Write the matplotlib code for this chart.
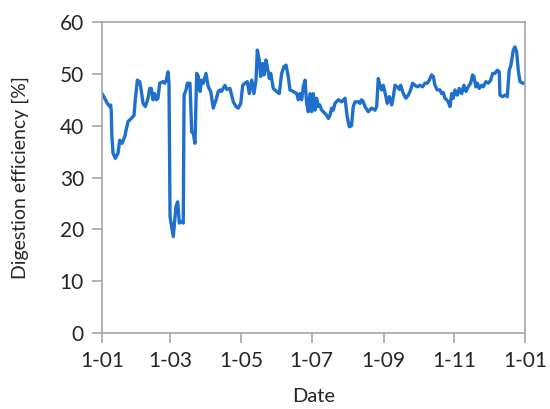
import numpy as np
import pandas as pd
import matplotlib
matplotlib.use("Agg")
import matplotlib.pyplot as plt
from matplotlib.ticker import FuncFormatter

# day of year (0 = 1 January) and digestion efficiency [%]
day = [0, 2.3, 4.6, 6.6, 7.5, 8, 8.5, 9.5, 11.5, 13.8, 15.3, 17.3, 19.6, 22.4, 25.3, 27.6,
       28.7, 30.5, 32.5, 33.4, 35.4, 37.4, 39.7, 41.2, 42.5, 44, 45.4, 46.9, 48.3, 49.8,
       52.6, 54.1, 55.5, 56.9, 57.8, 58.7, 60.1, 61.5, 63.8, 65.3, 66.7, 68.8, 70.1,
       70.8, 72.5, 73.6, 75.9, 77.4, 78.8, 80.2, 81.7, 83.1, 84.6, 86, 87.4, 89.7, 91.7,
       93.8, 96, 98.4, 100.3, 101.8, 103, 106.1, 107.6, 110.4, 113.3, 115.6, 117.6,
       119.7, 121.4, 123.4, 125.4, 127.1, 129.2, 131.1, 132.9, 134, 135.7, 136.9, 138.7,
       139.8, 141.5, 142.6, 144.4, 145.6, 147.8, 150.7, 153, 155, 157, 158.8, 160.7,
       162.2, 165, 168, 169.4, 170.8, 172.3, 173.7, 175.2, 176.6, 178, 179.5, 180.9,
       182.3, 183.8, 185.2, 186.6, 188, 189.6, 191, 193.9, 195.3, 196.7, 198.2, 199.6,
       201, 203.9, 206.8, 209.7, 211.6, 213.4, 215.3, 216.8, 218.3, 221.2, 222.6, 224,
       225.5, 226.9, 229.8, 232.6, 235.6, 237, 238.4, 239.8, 241.3, 242.7, 245, 246.2,
       247.9, 250, 251.4, 252.8, 254.8, 256.6, 257.7, 260, 262.3, 264.3, 266.3, 268,
       270, 272, 274.4, 276.6, 278.7, 280.7, 282.4, 284.4, 285.9, 287.3, 289.3, 291.6,
       293.1, 294.5, 295.9, 297.4, 298.8, 300.3, 301.7, 303.1, 304.6, 306.6, 308.3,
       310.4, 312.3, 314.1, 316, 318.1, 319.8, 320.9, 322.7, 323.9, 325.5, 327.6, 329,
       331.3, 333.3, 335.4, 337.1, 339.1, 341.1, 342.8, 343.4, 345.7, 347.7, 349.7,
       351.4, 352.9, 354.9, 356.3, 357.8, 359.2, 360.7, 363, 364]
efficiency = [46.2, 45.3, 44.3, 43.7, 44, 42.7, 38, 34.7, 33.7, 34.7, 37.2, 36.6, 37.9, 40.8,
              41.4, 42, 45, 48.8, 48.5, 47.5, 44.3, 43.7, 45.3, 47.2, 47.2, 45, 46.2, 45,
              45.3, 48.2, 48.5, 48.2, 48.8, 50.4, 48, 22.4, 20.5, 18.6, 24.4, 25.3, 21.2,
              21.5, 21.2, 45.9, 46.9, 48.2, 48.2, 38.8, 38.5, 36.6, 50.1, 49.5, 46.6, 48.8,
              48.2, 50.1, 47.5, 46.6, 43.4, 45, 46.6, 46.9, 46.6, 47.8, 47, 47.2, 44.6,
              43.7, 43.4, 44.3, 47.8, 48.2, 48.5, 46.2, 48.8, 46.2, 48.8, 54.6, 52.7, 49.5,
              52, 49.8, 52.7, 51.4, 49.1, 50.1, 47.2, 46.6, 46.2, 50.1, 51.4, 51.7, 49.5,
              46.9, 46.6, 46.2, 45, 46.2, 45, 47.5, 48.8, 44.3, 42.7, 46.2, 42.7, 46.2, 43,
              45.3, 43.7, 44, 43, 42.7, 42, 41.4, 42, 43.4, 43, 44.3, 45, 44.6, 45.3, 41.7,
              39.8, 40, 43.7, 44.6, 44.6, 44.3, 45, 44.6, 43.7, 42.7, 43.4, 43, 43.7, 49.1,
              47.8, 46.9, 47.8, 45.6, 44.3, 45.6, 44, 45.6, 47.8, 47.5, 47, 47.8, 46.2,
              45.3, 45.9, 46.9, 48.2, 47.8, 47.5, 47.8, 47.5, 48.2, 48.2, 48.8, 49.8, 49.5,
              47.8, 46.9, 46.9, 46.2, 46.4, 45.3, 45, 44.6, 43.7, 46.2, 45.3, 46.9, 45.9,
              47.2, 46.2, 47.8, 46.6, 47.5, 48.2, 49.8, 49.5, 47.5, 48.2, 47.2, 47.8, 47.5,
              48.5, 48.2, 48.8, 50.1, 50.1, 50.7, 50.4, 45.9, 45.6, 45.9, 45.6, 50.7, 51.7,
              54.6, 55.2, 54.3, 50.7, 48.5, 48.2, 48.2]

start = pd.Timestamp("2015-01-01")
dates = start + pd.to_timedelta(day, unit="D")
tick_dates = pd.date_range("2015-01-01", "2016-01-01", freq="2MS")

plt.rcParams['font.family'] = ['Lato', 'DejaVu Sans']

fig = plt.figure(figsize=(5.5, 4.09), dpi=100)
ax = fig.add_axes([0.1855, 0.186, 0.769, 0.76])

ax.plot(dates, efficiency, color='#1f70cc', linewidth=2.4)

ax.set_xlim(start, pd.Timestamp("2016-01-01"))
ax.set_ylim(0, 60)
ax.set_yticks(range(0, 61, 10))
ax.set_xticks(tick_dates)
ax.xaxis.set_major_formatter(FuncFormatter(
    lambda v, pos: "{}-{:02d}".format(matplotlib.dates.num2date(v).day,
                                      matplotlib.dates.num2date(v).month)))

for s in ax.spines.values():
    s.set_color('#a6a6a6')
    s.set_linewidth(1.2)
ax.tick_params(axis='both', direction='out', length=7, width=1.2, color='#a6a6a6',
               labelsize=15, labelcolor='#262626', pad=6)

ax.set_xlabel("Date", fontsize=14.5, color='#262626', labelpad=12)
ax.set_ylabel("Digestion efficiency [%]", fontsize=14, color='#262626', labelpad=22)

fig.savefig("out.png", dpi=100)
